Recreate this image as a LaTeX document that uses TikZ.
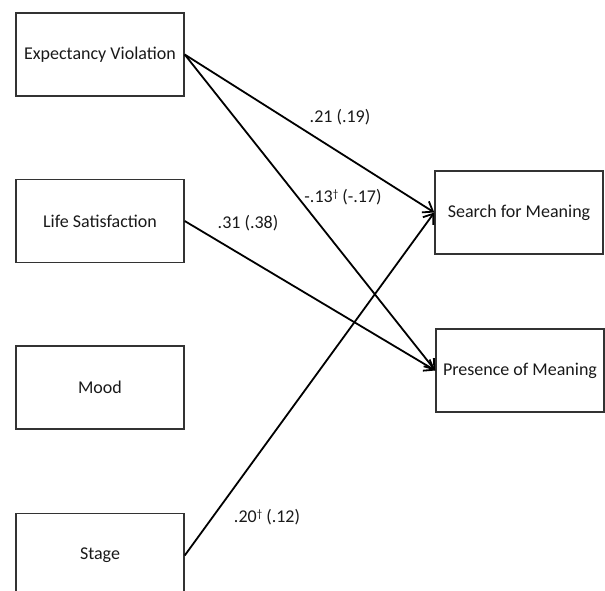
\documentclass[tikz,border=0pt]{standalone}
\usepackage{fontspec}
\setmainfont{Carlito}
\usetikzlibrary{arrows.meta}
\begin{document}
\begin{tikzpicture}[x=1pt,y=-1pt,
  box/.style={draw=black!80,line width=1.4pt,rectangle,minimum width=168pt,minimum height=83pt,inner sep=0pt,font=\fontsize{18}{21}\selectfont,text=black!90},
  path/.style={draw=black,line width=1.8pt,-{Straight Barb[length=9pt,width=13pt,line width=1.8pt]}},
  lab/.style={font=\fontsize{18}{21}\selectfont,text=black!90}]
\useasboundingbox (0,0) rectangle (605,591);
\clip (0,0) rectangle (605,591);
\node[box] (ev) at (100,54.5) {Expectancy Violation};
\node[box] (ls) at (100,221) {Life Satisfaction};
\node[box] (mood) at (100,387.5) {Mood};
\node[box,minimum height=84pt] (stage) at (100,555.5) {Stage};
\node[box] (sfm) at (519,212.5) {Search for Meaning};
\node[box] (pom) at (520,370.5) {Presence of Meaning};
\draw[path] (ev.east) -- (sfm.west);
\draw[path] (ev.east) -- (pom.west);
\draw[path] (ls.east) -- (pom.west);
\draw[path] (stage.east) -- (sfm.west);
\node[lab] (l1) at (340,117) {.21 (.19)};
\node[lab] (l2) at (343,197) {-.13{\fontsize{11}{12}\selectfont\raisebox{5pt}{†}} (-.17)};
\node[lab] (l3) at (248,223) {.31 (.38)};
\node[lab] (l4) at (267,517) {.20{\fontsize{11}{12}\selectfont\raisebox{5pt}{†}} (.12)};
\end{tikzpicture}
\end{document}
